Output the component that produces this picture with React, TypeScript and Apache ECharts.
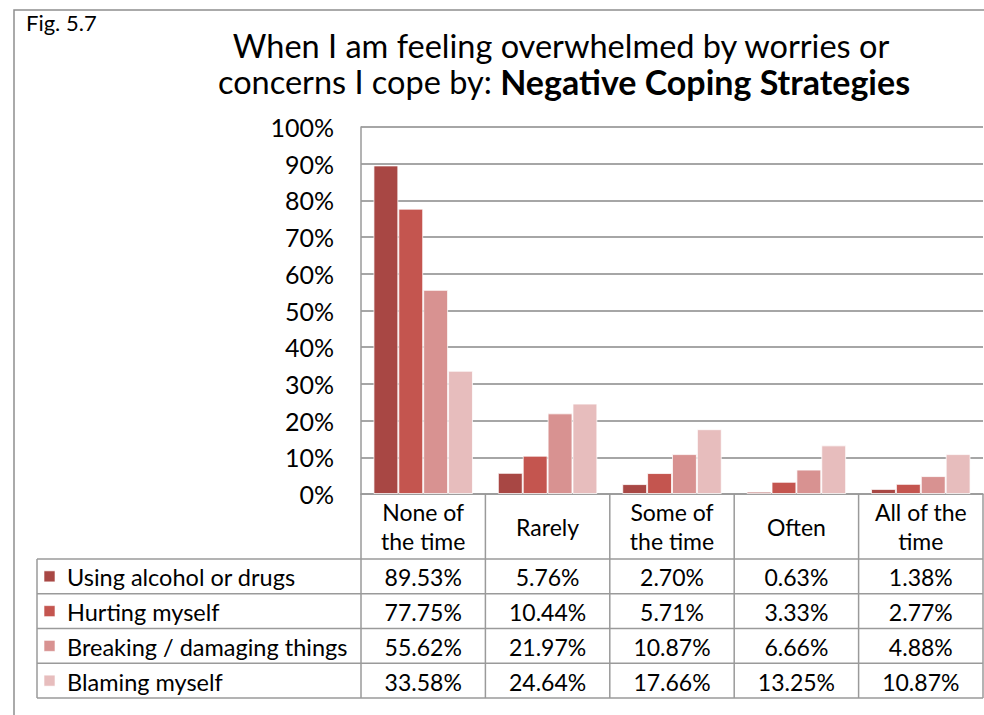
import React, { useEffect, useRef } from "react";
import * as echarts from "echarts";

const categories = ["None of\nthe time", "Rarely", "Some of\nthe time", "Often", "All of the\ntime"];
const seriesNames = ["Using alcohol or drugs", "Hurting myself", "Breaking / damaging things", "Blaming myself"];
const alcohol = [89.53, 5.76, 2.7, 0.63, 1.38];
const hurting = [77.75, 10.44, 5.71, 3.33, 2.77];
const breaking = [55.62, 21.97, 10.87, 6.66, 4.88];
const blaming = [33.58, 24.64, 17.66, 13.25, 10.87];
const seriesColors = ["#A84744", "#C4554F", "#D89291", "#E7BDBD"];

const FONT = "Lato, 'Open Sans', sans-serif";
const W = 984;
const H = 715;
const GRID_LEFT = 361;
const GRID_TOP = 127;
const GRID_W = 622;
const GRID_H = 367;
const TABLE_LEFT = 37;
const HEADER_H = 65;
const ROW_H = 34.75;
const LINE = "#9a9a9a";

export default function App() {
  const ref = useRef<HTMLDivElement>(null);
  useEffect(() => {
    if (!ref.current) return;
    const chart = echarts.init(ref.current, null, { renderer: "svg" });
    const allSeries = [alcohol, hurting, breaking, blaming];
    const colW = GRID_W / categories.length;
    const axisY = GRID_TOP + GRID_H;
    const headerBottom = axisY + HEADER_H;
    const tableBottom = headerBottom + ROW_H * seriesNames.length;
    const tableRight = GRID_LEFT + GRID_W;

    const graphics: any[] = [];
    graphics.push({
      type: "rect",
      shape: { x: 14, y: 10, width: 1100, height: 900 },
      style: { fill: "none", stroke: "#8f8f8f", lineWidth: 1.5 },
      silent: true,
      z: 0,
    });
    graphics.push({
      type: "text",
      x: 26,
      y: 22,
      style: { text: "Fig. 5.7", font: `22px ${FONT}`, fill: "#000", textVerticalAlign: "middle" },
    });
    graphics.push({
      type: "text",
      x: 561,
      y: 45,
      style: {
        text: "When I am feeling overwhelmed by worries or",
        font: `32.5px ${FONT}`,
        fill: "#000",
        textAlign: "center",
        textVerticalAlign: "middle",
      },
    });
    graphics.push({
      type: "text",
      x: 564,
      y: 81,
      style: {
        text: "{n|concerns I cope by: }{b|Negative Coping Strategies}",
        textAlign: "center",
        textVerticalAlign: "middle",
        rich: {
          n: { fontFamily: FONT, fontSize: 32.5, fill: "#000", color: "#000" },
          b: { fontFamily: FONT, fontSize: 34, fontWeight: "bold", fill: "#000", color: "#000" },
        },
      },
    });
    for (let r = 0; r <= seriesNames.length; r++) {
      const y = headerBottom + r * ROW_H;
      graphics.push({
        type: "line",
        shape: { x1: TABLE_LEFT, y1: y, x2: tableRight, y2: y },
        style: { stroke: LINE, lineWidth: 1.5 },
        silent: true,
      });
    }
    graphics.push({
      type: "line",
      shape: { x1: TABLE_LEFT, y1: headerBottom, x2: TABLE_LEFT, y2: tableBottom },
      style: { stroke: LINE, lineWidth: 1.5 },
      silent: true,
    });
    for (let i = 0; i <= categories.length; i++) {
      const x = GRID_LEFT + i * colW;
      graphics.push({
        type: "line",
        shape: { x1: x, y1: axisY, x2: x, y2: tableBottom },
        style: { stroke: LINE, lineWidth: 1.5 },
        silent: true,
      });
    }
    seriesNames.forEach((name, r) => {
      const cy = headerBottom + (r + 0.5) * ROW_H;
      graphics.push({
        type: "rect",
        shape: { x: 44, y: cy - 5.5, width: 11, height: 11 },
        style: { fill: seriesColors[r], stroke: "rgba(255,255,255,0.6)", lineWidth: 1 },
      });
      graphics.push({
        type: "text",
        x: 67,
        y: cy + 1,
        style: { text: name, font: `23.5px ${FONT}`, fill: "#000", textVerticalAlign: "middle" },
      });
      allSeries[r].forEach((v, i) => {
        graphics.push({
          type: "text",
          x: GRID_LEFT + (i + 0.5) * colW,
          y: cy + 1,
          style: {
            text: v.toFixed(2) + "%",
            font: `23px ${FONT}`,
            fill: "#000",
            textAlign: "center",
            textVerticalAlign: "middle",
          },
        });
      });
    });

    chart.setOption({
      animation: false,
      backgroundColor: "#fff",
      grid: { left: GRID_LEFT, top: GRID_TOP, width: GRID_W, height: GRID_H, containLabel: false },
      xAxis: {
        type: "category",
        data: categories,
        axisLine: { show: true, lineStyle: { color: LINE, width: 1.5 } },
        axisTick: { show: false },
        axisLabel: {
          margin: HEADER_H / 2,
          verticalAlign: "middle",
          fontFamily: FONT,
          fontSize: 23,
          lineHeight: 29,
          color: "#000",
          interval: 0,
        },
      },
      yAxis: {
        type: "value",
        min: 0,
        max: 100,
        interval: 10,
        axisLine: { show: true, lineStyle: { color: LINE, width: 1.5 } },
        axisTick: { show: false },
        splitLine: { show: true, lineStyle: { color: "#888", width: 1.5 } },
        axisLabel: {
          formatter: "{value}%",
          margin: 27,
          fontFamily: FONT,
          fontSize: 25,
          color: "#000",
        },
      },
      series: allSeries.map((d, k) => ({
        type: "bar",
        name: seriesNames[k],
        data: d,
        barGap: "0%",
        barCategoryGap: "20%",
        itemStyle: { color: seriesColors[k], borderColor: "rgba(255,255,255,0.75)", borderWidth: 1 },
      })),
      graphic: graphics,
    });
    return () => chart.dispose();
  }, []);
  return <div ref={ref} style={{ position: "fixed", left: 0, top: 0, width: W, height: H }} />;
}
